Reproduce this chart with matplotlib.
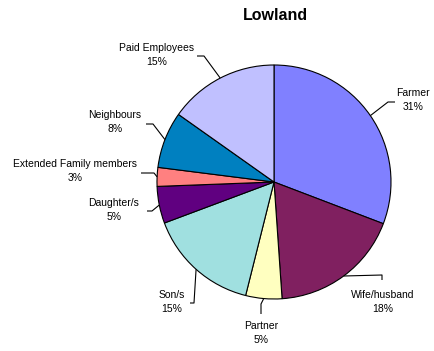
import matplotlib
matplotlib.use('Agg')
import matplotlib.pyplot as plt
import numpy as np

categories = ['Farmer', 'Wife/husband', 'Partner', 'Son/s', 'Daughter/s',
              'Extended Family members', 'Neighbours', 'Paid Employees']
values = [30.8, 18.1, 5.0, 15.4, 5.1, 2.6, 7.8, 15.2]
colors = ['#8080FF', '#802060', '#FFFFC0', '#A0E0E0', '#600080',
          '#FF8080', '#0080C0', '#C0C0FF']
title = 'Lowland'

W, H = 434, 351
fig = plt.figure(figsize=(W / 100, H / 100), dpi=100)
ax = fig.add_axes([0, 0, 1, 1])
cx, cy, R = 274, H - 182, 117
wedges, _ = ax.pie(values, colors=colors, startangle=90, counterclock=False,
                   center=(cx, cy), radius=R,
                   wedgeprops=dict(edgecolor='black', linewidth=0.8))
ax.set_xlim(0, W)
ax.set_ylim(0, H)
ax.set_aspect('equal')
ax.axis('off')

FONT = 'Liberation Sans'
ax.text(275, H - 15, title, ha='center', va='center', fontsize=11.5,
        fontweight='bold', family=FONT)

# layout in pixel coordinates (from top-left): text centre, elbow, tail
layout = {
    'Farmer': ((413, 100), (388, 102), (395, 102)),
    'Wife/husband': ((383, 302), (382, 275), (382, 280)),
    'Partner': ((261, 333), (261, 304), (261, 314)),
    'Son/s': ((172, 302), (194, 303), (190, 303)),
    'Daughter/s': ((114, 210), (152, 211), (147, 211)),
    'Extended Family members': ((75, 171), (154, 173), (141, 173)),
    'Neighbours': ((115, 122), (153, 124), (146, 124)),
    'Paid Employees': ((157, 55), (204, 56), (197, 56)),
}

total = sum(values)
cum = 0.0
for cat, v in zip(categories, values):
    mid = (cum + v / 2) / total * 360.0
    cum += v
    ang = np.deg2rad(90 - mid)
    ex, ey = cx + R * np.cos(ang), cy + R * np.sin(ang)
    (tx, ty), (bx, by), (lx, ly) = layout[cat]
    ax.plot([ex, bx, lx], [ey, H - by, H - ly], color='black', lw=0.8,
            solid_capstyle='butt')
    pct = int(np.floor(v / total * 100 + 0.5))
    ax.text(tx, H - ty, f'{cat}\n{pct}%', ha='center', va='center',
            fontsize=7.5, family=FONT, linespacing=1.45)

fig.savefig('out.png', dpi=100, facecolor='white')
